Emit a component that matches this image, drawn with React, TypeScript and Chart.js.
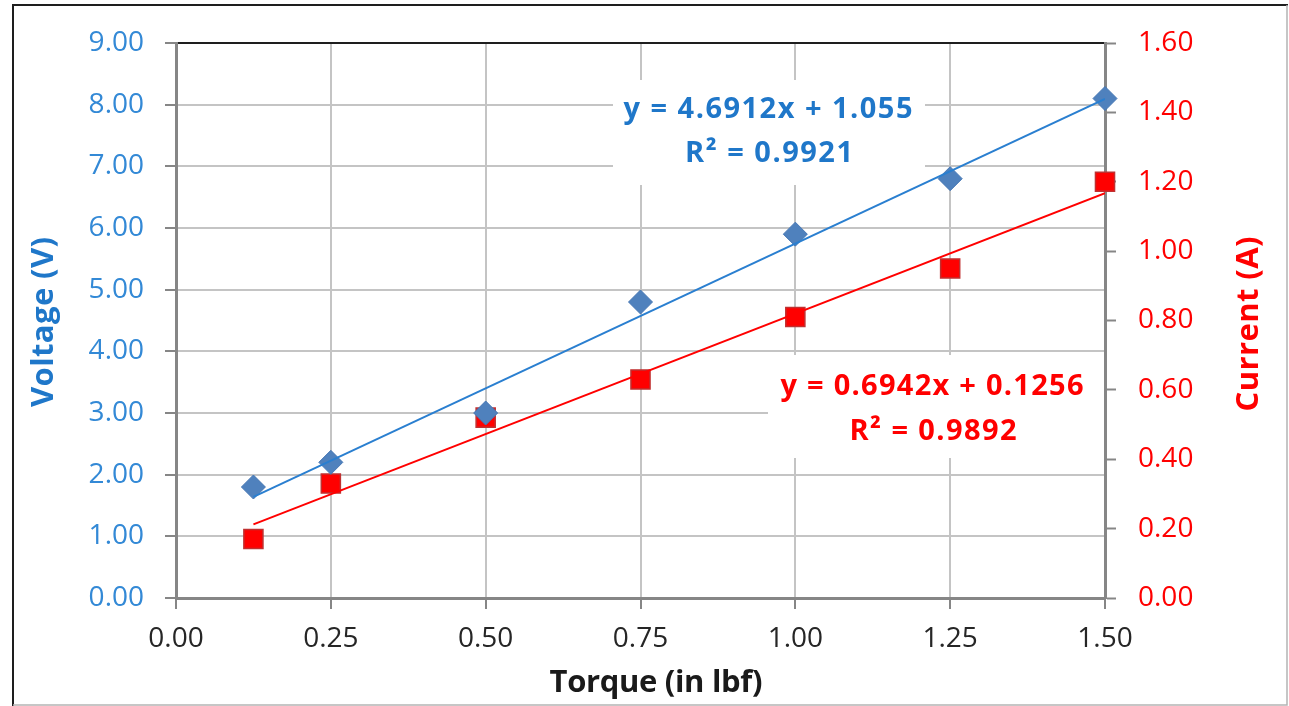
import React, { useEffect, useRef } from 'react';
import { Chart, registerables } from 'chart.js';

Chart.register(...registerables);

// ---- data ----
const torque = [0.125, 0.25, 0.5, 0.75, 1.0, 1.25, 1.5];
const voltage = [1.8, 2.2, 3.0, 4.8, 5.9, 6.8, 8.1];
const current = [0.17, 0.33, 0.52, 0.63, 0.81, 0.95, 1.2];
const trendX = [0.125, 1.5];
const trendVoltage = [1.641, 8.092];
const trendCurrent = [0.2124, 1.1669];
const voltageLabel = ['y = 4.6912x + 1.055', 'R² = 0.9921'];
const currentLabel = ['y = 0.6942x + 0.1256', 'R² = 0.9892'];
const xTitle = 'Torque (in lbf)';
const yTitle = 'Voltage (V)';
const y1Title = 'Current (A)';

const FONT = '"Open Sans", "DejaVu Sans", sans-serif';
const BLUE_TEXT = '#1f77c9';
const BLUE_TICK = '#3389d6';
const RED = '#ff0000';

function fitText(
  ctx: CanvasRenderingContext2D,
  text: string,
  x: number,
  y: number,
  target: number,
  size: number,
  color: string,
  rotate: boolean
) {
  ctx.save();
  ctx.font = `bold ${size}px ${FONT}`;
  (ctx as any).letterSpacing = '0px';
  const w = ctx.measureText(text).width;
  const n = Array.from(text).length;
  const ls = n > 1 ? (target - w) / (n - 1) : 0;
  (ctx as any).letterSpacing = `${ls}px`;
  ctx.fillStyle = color;
  ctx.textAlign = 'left';
  ctx.textBaseline = 'alphabetic';
  if (rotate) {
    ctx.translate(x, y);
    ctx.rotate(-Math.PI / 2);
    ctx.fillText(text, -target / 2, 0);
  } else {
    ctx.fillText(text, x - target / 2, y);
  }
  ctx.restore();
}

const decor = {
  id: 'decor',
  beforeDraw(chart: any) {
    const ctx = chart.ctx as CanvasRenderingContext2D;
    ctx.save();
    ctx.fillStyle = '#ffffff';
    ctx.fillRect(0, 0, chart.width, chart.height);
    ctx.restore();
  },
  beforeDatasetsDraw(chart: any) {
    const ctx = chart.ctx as CanvasRenderingContext2D;
    ctx.save();
    ctx.fillStyle = '#ffffff';
    ctx.fillRect(613, 80, 312, 105);
    ctx.fillRect(768, 355, 336, 103);
    ctx.restore();
    fitText(ctx, voltageLabel[0], 768, 118, 289, 29, BLUE_TEXT, false);
    fitText(ctx, voltageLabel[1], 769, 162, 168, 29, BLUE_TEXT, false);
    fitText(ctx, currentLabel[0], 932, 395, 303, 29, RED, false);
    fitText(ctx, currentLabel[1], 933, 440, 167, 29, RED, false);
  },
  afterDraw(chart: any) {
    const ctx = chart.ctx as CanvasRenderingContext2D;
    fitText(ctx, xTitle, 656, 692, 213, 31, '#1a1a1a', false);
    fitText(ctx, yTitle, 53, 322, 170, 31, BLUE_TEXT, true);
    fitText(ctx, y1Title, 1258, 324, 175, 31, RED, true);
    ctx.save();
    ctx.lineWidth = 2;
    ctx.strokeStyle = '#1e1e1e';
    ctx.beginPath();
    ctx.moveTo(13, 706);
    ctx.lineTo(13, 5);
    ctx.lineTo(1288, 5);
    ctx.stroke();
    ctx.lineWidth = 1.5;
    ctx.strokeStyle = '#b4b4b4';
    ctx.beginPath();
    ctx.moveTo(1287, 5);
    ctx.lineTo(1287, 705);
    ctx.lineTo(13, 705);
    ctx.stroke();
    ctx.restore();
  },
};

export default function App() {
  const ref = useRef<HTMLCanvasElement | null>(null);

  useEffect(() => {
    if (!ref.current) return;
    document.body.style.margin = '0';
    const chart = new Chart(ref.current, {
      type: 'scatter',
      data: {
        datasets: [
          {
            label: 'Voltage trend',
            data: trendX.map((x, i) => ({ x, y: trendVoltage[i] })),
            yAxisID: 'y',
            showLine: true,
            borderColor: '#2a7fd0',
            borderWidth: 2,
            pointRadius: 0,
            fill: false,
          } as any,
          {
            label: 'Current trend',
            data: trendX.map((x, i) => ({ x, y: trendCurrent[i] })),
            yAxisID: 'y1',
            showLine: true,
            borderColor: RED,
            borderWidth: 2,
            pointRadius: 0,
            fill: false,
          } as any,
          {
            label: 'Voltage',
            data: torque.map((x, i) => ({ x, y: voltage[i] })),
            yAxisID: 'y',
            pointStyle: 'rectRot',
            pointRadius: 12,
            backgroundColor: '#4f81bd',
            borderColor: '#4677b4',
            borderWidth: 1,
            clip: false,
          } as any,
          {
            label: 'Current',
            data: torque.map((x, i) => ({ x, y: current[i] })),
            yAxisID: 'y1',
            pointStyle: 'rect',
            pointRadius: 13.5,
            backgroundColor: RED,
            borderColor: '#c03030',
            borderWidth: 1.5,
            clip: false,
          } as any,
        ],
      },
      options: {
        responsive: true,
        maintainAspectRatio: false,
        animation: false,
        layout: { padding: { top: 43, left: 0, right: 0, bottom: 0 } },
        plugins: {
          legend: { display: false },
          tooltip: { enabled: false },
        },
        scales: {
          x: {
            type: 'linear',
            position: 'bottom',
            min: 0,
            max: 1.5,
            afterFit: (s: any) => {
              s.height = 108;
            },
            ticks: {
              stepSize: 0.25,
              padding: 13,
              color: '#262626',
              font: { family: FONT, size: 28 },
              callback: (v: any) => Number(v).toFixed(2),
            },
            grid: {
              color: '#c4c4c4',
              lineWidth: 2,
              tickColor: '#868686',
              tickWidth: 2,
              tickLength: 11,
            },
            border: { color: '#868686', width: 3 },
          },
          y: {
            type: 'linear',
            position: 'left',
            min: 0,
            max: 9,
            afterFit: (s: any) => {
              s.width = 176;
            },
            ticks: {
              stepSize: 1,
              padding: 21,
              color: BLUE_TICK,
              font: { family: FONT, size: 28 },
              callback: (v: any) => Number(v).toFixed(2),
            },
            grid: {
              color: (c: any) => (c.tick && c.tick.value === 9 ? '#1e1e1e' : '#c4c4c4'),
              lineWidth: 2,
              tickColor: '#868686',
              tickWidth: 2,
              tickLength: 11,
            },
            border: { color: '#868686', width: 3 },
          },
          y1: {
            type: 'linear',
            position: 'right',
            min: 0,
            max: 1.6,
            afterFit: (s: any) => {
              s.width = 184;
            },
            ticks: {
              stepSize: 0.2,
              padding: 22,
              color: RED,
              font: { family: FONT, size: 28 },
              callback: (v: any) => Number(v).toFixed(2),
            },
            grid: {
              drawOnChartArea: false,
              tickColor: '#868686',
              tickWidth: 2,
              tickLength: 11,
            },
            border: { color: '#868686', width: 3 },
          },
        },
      },
      plugins: [decor],
    });
    return () => chart.destroy();
  }, []);

  return (
    <div style={{ position: 'absolute', left: 0, top: 0, width: 1289, height: 706 }}>
      <canvas ref={ref} />
    </div>
  );
}
